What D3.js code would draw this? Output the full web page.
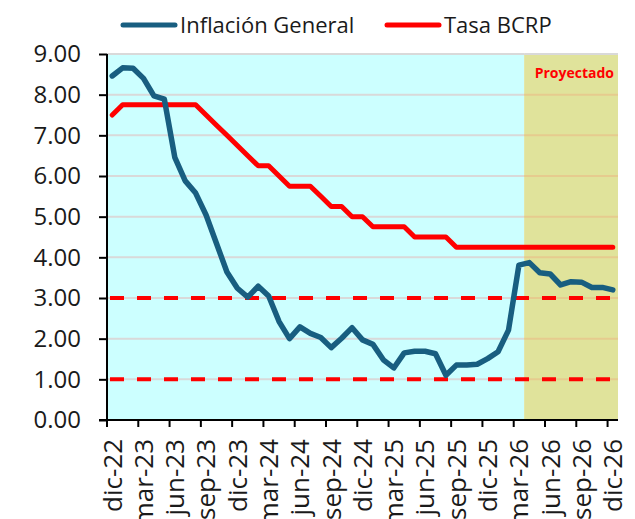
<!DOCTYPE html>
<html>
<head>
<meta charset="utf-8">
<script src="https://cdnjs.cloudflare.com/ajax/libs/d3/7.8.5/d3.min.js"></script>
<style>
  body { margin: 0; background: #fff; }
  svg { display: block; font-family: "Open Sans", sans-serif; }
</style>
</head>
<body>
<div id="chart"></div>
<script>
// categorias mensuales
var meses = ["dic-22","ene-23","feb-23","mar-23","abr-23","may-23","jun-23","jul-23","ago-23","sep-23","oct-23","nov-23",
             "dic-23","ene-24","feb-24","mar-24","abr-24","may-24","jun-24","jul-24","ago-24","sep-24","oct-24","nov-24",
             "dic-24","ene-25","feb-25","mar-25","abr-25","may-25","jun-25","jul-25","ago-25","sep-25","oct-25","nov-25",
             "dic-25","ene-26","feb-26","mar-26","abr-26","may-26","jun-26","jul-26","ago-26","sep-26","oct-26","nov-26",
             "dic-26"];
var etiquetas = ["dic-22","mar-23","jun-23","sep-23","dic-23","mar-24","jun-24","sep-24","dic-24",
                 "mar-25","jun-25","sep-25","dic-25","mar-26","jun-26","sep-26","dic-26"];

var inflacion = [8.46,8.66,8.65,8.40,7.97,7.89,6.46,5.88,5.58,5.04,4.34,3.64,
                 3.24,3.02,3.29,3.05,2.42,2.00,2.29,2.13,2.03,1.78,2.01,2.27,
                 1.97,1.86,1.48,1.28,1.65,1.69,1.69,1.63,1.10,1.35,1.35,1.37,
                 1.51,1.68,2.21,3.81,3.87,3.62,3.59,3.32,3.40,3.39,3.26,3.26,
                 3.20];
var tasa = [7.50,7.75,7.75,7.75,7.75,7.75,7.75,7.75,7.75,7.50,7.25,7.00,
            6.75,6.50,6.25,6.25,6.00,5.75,5.75,5.75,5.50,5.25,5.25,5.00,
            5.00,4.75,4.75,4.75,4.75,4.50,4.50,4.50,4.50,4.25,4.25,4.25,
            4.25,4.25,4.25,4.25,4.25,4.25,4.25,4.25,4.25,4.25,4.25,4.25,
            4.25];
var yTicks = [0,1,2,3,4,5,6,7,8,9];
var rangoMeta = [3, 1];
var inicioProyeccion = "abr-26";

var width = 635, height = 519;
var pLeft = 107, pRight = 618, pTop = 54, pBottom = 420;

var svg = d3.select("#chart").append("svg")
    .attr("width", width)
    .attr("height", height);

var x = d3.scaleBand().domain(meses).range([pLeft, pRight]).padding(0);
var y = d3.scaleLinear().domain([0, 9]).range([pBottom, pTop]);
var bw = x.bandwidth();
var xc = function(d) { return x(d) + bw / 2; };
var xProy = x(inicioProyeccion);

// fondos
svg.append("rect")
    .attr("x", pLeft).attr("y", pTop)
    .attr("width", xProy - pLeft).attr("height", pBottom - pTop)
    .style("fill", "#ccffff");
svg.append("rect")
    .attr("x", xProy).attr("y", pTop)
    .attr("width", pRight - xProy).attr("height", pBottom - pTop)
    .style("fill", "#e0e39b");

// lineas de grilla
var grid = svg.append("g");
grid.selectAll("line.a")
    .data(yTicks.filter(function(d) { return d > 0; }))
    .enter().append("line")
    .attr("x1", pLeft).attr("x2", xProy)
    .attr("y1", function(d) { return y(d); })
    .attr("y2", function(d) { return y(d); })
    .style("stroke", "#d9d9d9")
    .style("stroke-width", 2);
grid.selectAll("line.b")
    .data(yTicks.filter(function(d) { return d > 0; }))
    .enter().append("line")
    .attr("x1", xProy).attr("x2", pRight)
    .attr("y1", function(d) { return y(d); })
    .attr("y2", function(d) { return y(d); })
    .style("stroke", function(d) { return d === 9 ? "#d9d9d9" : "#e6cb8e"; })
    .style("stroke-width", 2);

// rango meta
svg.selectAll("line.meta")
    .data(rangoMeta)
    .enter().append("line")
    .attr("x1", pLeft + 3).attr("x2", pRight)
    .attr("y1", function(d) { return y(d); })
    .attr("y2", function(d) { return y(d); })
    .style("stroke", "#ff0000")
    .style("stroke-width", 4)
    .style("stroke-dasharray", "14,13");

svg.append("text")
    .attr("x", 614).attr("y", 78)
    .attr("text-anchor", "end")
    .style("font-size", "14px")
    .style("font-weight", "bold")
    .style("fill", "#ff0000")
    .text("Proyectado");

// series
var line = d3.line()
    .x(function(d, i) { return xc(meses[i]); })
    .y(function(d) { return y(d); });

svg.append("path")
    .datum(tasa)
    .attr("d", line)
    .style("fill", "none")
    .style("stroke", "#ff0000")
    .style("stroke-width", 5)
    .style("stroke-linejoin", "round")
    .style("stroke-linecap", "round");

svg.append("path")
    .datum(inflacion)
    .attr("d", line)
    .style("fill", "none")
    .style("stroke", "#185e80")
    .style("stroke-width", 5.5)
    .style("stroke-linejoin", "round")
    .style("stroke-linecap", "round");

// ejes
var yAxis = svg.append("g")
    .attr("transform", "translate(" + pLeft + ",0)")
    .call(d3.axisLeft(y).tickValues(yTicks).tickFormat(d3.format(".2f")).tickSize(8).tickPadding(18));
yAxis.select(".domain").attr("d", "M0," + pTop + "V" + pBottom).style("stroke", "#000").style("stroke-width", 2);
yAxis.selectAll(".tick line").style("stroke", "#000").style("stroke-width", 2);
yAxis.selectAll(".tick text")
    .style("font-size", "24px")
    .style("fill", "#1a1a1a")
    .attr("font-family", "Open Sans");

var xAxis = svg.append("g")
    .attr("transform", "translate(0," + pBottom + ")")
    .call(d3.axisBottom(x).tickValues(etiquetas).tickSize(7).tickPadding(0));
xAxis.select(".domain").attr("d", "M" + (pLeft - 8) + ",0H" + pRight).style("stroke", "#000").style("stroke-width", 2);
xAxis.selectAll(".tick line")
    .attr("x1", -bw / 2).attr("x2", -bw / 2)
    .style("stroke", "#000").style("stroke-width", 2);
xAxis.selectAll(".tick text")
    .attr("transform", "rotate(-90)")
    .attr("x", -19).attr("y", 0).attr("dy", "0.36em")
    .attr("text-anchor", "end")
    .attr("font-family", "Open Sans")
    .style("font-size", "26px")
    .style("fill", "#1a1a1a");

// leyenda
var leyenda = [
    { nombre: "Inflación General", color: "#185e80", x: 123 },
    { nombre: "Tasa BCRP", color: "#ff0000", x: 387 }
];
var lg = svg.selectAll("g.ley")
    .data(leyenda)
    .enter().append("g")
    .attr("transform", function(d) { return "translate(" + d.x + ",25)"; });
lg.append("line")
    .attr("x1", 0).attr("x2", 52)
    .style("stroke", function(d) { return d.color; })
    .style("stroke-width", 5)
    .style("stroke-linecap", "round");
lg.append("text")
    .attr("x", 57).attr("y", 8)
    .style("font-size", "22px")
    .style("fill", "#1a1a1a")
    .text(function(d) { return d.nombre; });
</script>
</body>
</html>
